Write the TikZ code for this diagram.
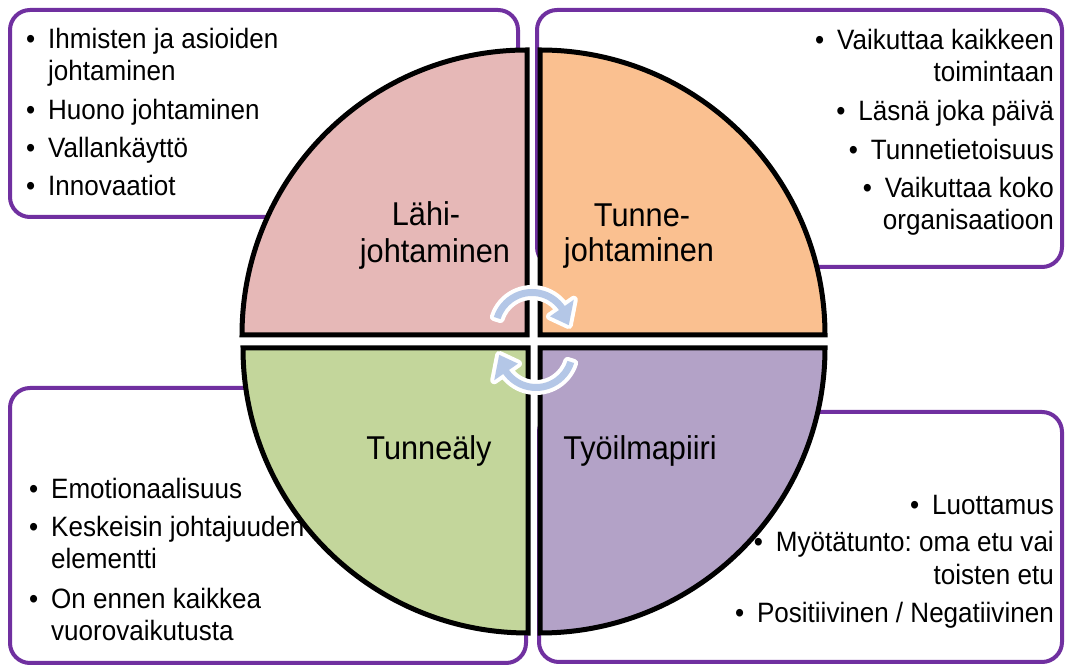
\documentclass[tikz,border=0pt]{standalone}
\usepackage{fontspec}
\setmainfont{Liberation Sans}[FakeStretch=0.93]
\definecolor{boxpurple}{HTML}{7030A0}
\definecolor{pinkq}{HTML}{E6B8B7}
\definecolor{orangeq}{HTML}{FAC090}
\definecolor{greenq}{HTML}{C3D69B}
\definecolor{lilacq}{HTML}{B3A2C7}
\definecolor{arrowblue}{HTML}{B4C7E7}
\newcommand\bul{\makebox[22pt][l]{•}}
\frenchspacing
\begin{document}
\frenchspacing
\begin{tikzpicture}[x=1pt,y=1pt,
  infobox/.style={draw=boxpurple, line width=4pt, rounded corners=20pt, fill=white},
  quad/.style={draw=black, line width=5pt},
  bt/.style={inner sep=0pt, font=\fontsize{28}{31}\selectfont},
  lab/.style={inner sep=0pt, font=\fontsize{33}{35}\selectfont},
  cyc/.pic={
    \filldraw[white, line width=8pt, line join=round]
      (162.5:40) arc[start angle=162.5,end angle=35,radius=40] -- (35:51) -- (6:37)
      -- (35:22) -- (35:33) arc[start angle=35,end angle=162.5,radius=33] -- cycle;
    \fill[arrowblue]
      (162.5:40) arc[start angle=162.5,end angle=35,radius=40] -- (35:51) -- (6:37)
      -- (35:22) -- (35:33) arc[start angle=35,end angle=162.5,radius=33] -- cycle;
  }]
\useasboundingbox (0,0) rectangle (1065,666);
\fill[white] (0,0) rectangle (1065,666);

% information boxes
\draw[infobox] (10,449) rectangle (518,656);
\draw[infobox] (537,399) rectangle (1062,656);
\draw[infobox] (10,3) rectangle (526,278);
\draw[infobox] (539,4) rectangle (1062,254);

% top-left texts
\node (tla) [bt, anchor=base west] at (26,617) {\bul Ihmisten ja asioiden};
\node (tlb) [bt, anchor=base west] at (48,585) {johtaminen};
\node (tlc) [bt, anchor=base west] at (26,546) {\bul Huono johtaminen};
\node (tld) [bt, anchor=base west] at (26,508) {\bul Vallankäyttö};
\node (tle) [bt, anchor=base west] at (26,470) {\bul Innovaatiot};

% top-right texts
\node (tra) [bt, anchor=base east] at (1054,616) {\bul Vaikuttaa kaikkeen};
\node (trb) [bt, anchor=base east] at (1054,584) {toimintaan};
\node (trc) [bt, anchor=base east] at (1054,545) {\bul Läsnä joka päivä};
\node (trd) [bt, anchor=base east] at (1054,506) {\bul Tunnetietoisuus};
\node (tre) [bt, anchor=base east] at (1054,468) {\bul Vaikuttaa koko};
\node (trf) [bt, anchor=base east] at (1054,436) {organisaatioon};

% bottom-left texts
\node (bla) [bt, anchor=base west] at (29,167) {\bul Emotionaalisuus};
\node (blb) [bt, anchor=base west] at (29,129) {\bul Keskeisin johtajuuden};
\node (blc) [bt, anchor=base west] at (51,97) {elementti};
\node (bld) [bt, anchor=base west] at (29,57) {\bul On ennen kaikkea};
\node (ble) [bt, anchor=base west] at (51,25) {vuorovaikutusta};

% quadrants
\draw[quad, fill=pinkq] (527,331) -- (527,616) arc[start angle=90,end angle=180,radius=285] -- cycle;
\draw[quad, fill=orangeq] (540,331) -- (825,331) arc[start angle=0,end angle=90,radius=285] -- cycle;
\draw[quad, fill=greenq] (528,318) -- (243,318) arc[start angle=180,end angle=270,radius=285] -- cycle;
\draw[quad, fill=lilacq] (540,318) -- (540,33) arc[start angle=270,end angle=360,radius=285] -- cycle;

% bottom-right texts
\node (bra) [bt, anchor=base east] at (1054,151) {\bul Luottamus};
\node (brb) [bt, anchor=base east] at (1054,114) {\bul Myötätunto: oma etu vai};
\node (brc) [bt, anchor=base east] at (1054,81) {toisten etu};
\node (brd) [bt, anchor=base east] at (1054,43) {\bul Positiivinen / Negatiivinen};

% quadrant labels
\node (lj1) [lab, anchor=base] at (426,440) {Lähi-};
\node (lj2) [lab, anchor=base] at (435,403) {johtaminen};
\node (tj1) [lab, anchor=base] at (642,439) {Tunne-};
\node (tj2) [lab, anchor=base] at (639,404) {johtaminen};
\node (ta) [lab, anchor=base] at (429,206) {Tunneäly};
\node (ty) [lab, anchor=base] at (640,206) {Työilmapiiri};

% cycle arrows
\pic at (532,337) {cyc};
\pic[rotate=180] at (536,315) {cyc};
\end{tikzpicture}
\end{document}
